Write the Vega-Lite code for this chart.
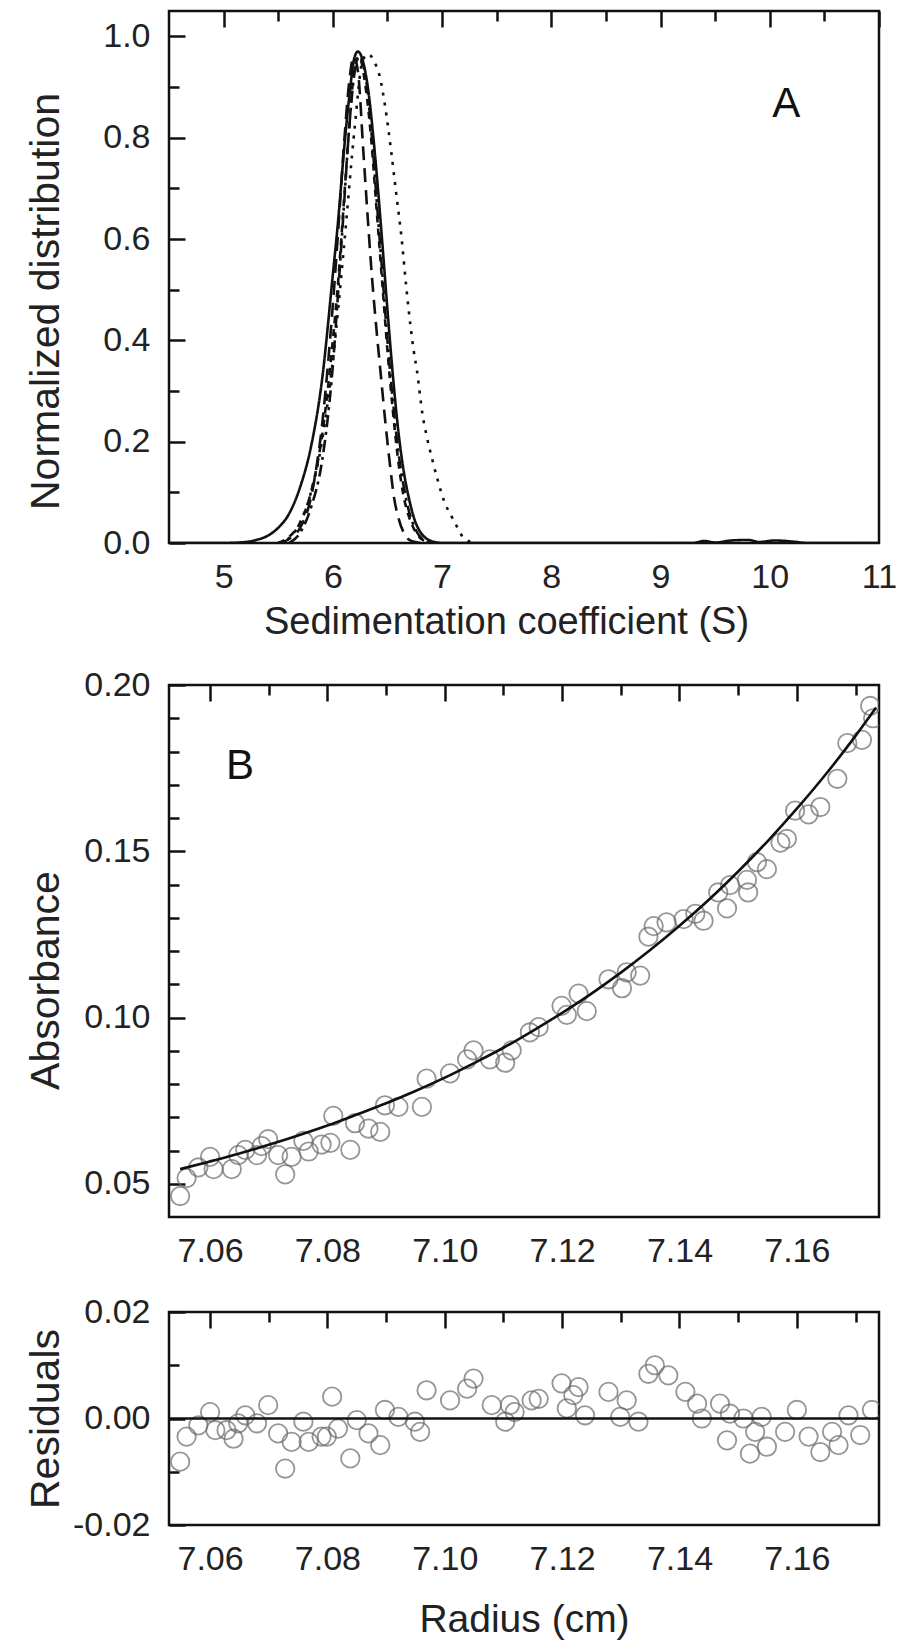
{
  "$schema": "https://vega.github.io/schema/vega-lite/v6.json",
  "padding": {"left": 23, "top": 9, "right": 5, "bottom": 0},
  "spacing": 23,
  "config": {
    "view": {"stroke": "#111111", "strokeWidth": 2.5},
    "axis": {
      "domain": false, "ticks": false, "tickSize": 0,
      "grid": true, "gridColor": "#111111", "gridWidth": 2.5, "gridOpacity": 1,
      "labelColor": "#222222", "labelFont": "Liberation Sans", "labelFontSize": 34,
      "titleFont": "Liberation Sans", "titleFontSize": 41, "titleFontWeight": "normal", "titleColor": "#222222",
      "labelFlush": false, "labelOverlap": false, "labelBound": false
    },
    "axisX": {"labelPadding": 17},
    "axisY": {"labelPadding": 19},
    "text": {"font": "Liberation Sans"}
  },
  "vconcat": [
    {
      "width": 710, "height": 532,
      "resolve": {"axis": {"x": "independent", "y": "independent"}},
      "layer": [
        {
          "data": {"values": [
            {"c":"solid","s":4.5,"g":0},{"c":"solid","s":5.0,"g":0},{"c":"solid","s":5.2,"g":0.002},{"c":"solid","s":5.3,"g":0.006},{"c":"solid","s":5.4,"g":0.014},{"c":"solid","s":5.5,"g":0.03},{"c":"solid","s":5.6,"g":0.058},{"c":"solid","s":5.7,"g":0.11},{"c":"solid","s":5.8,"g":0.19},{"c":"solid","s":5.9,"g":0.32},{"c":"solid","s":6.0,"g":0.53},{"c":"solid","s":6.05,"g":0.64},{"c":"solid","s":6.1,"g":0.77},{"c":"solid","s":6.15,"g":0.88},{"c":"solid","s":6.2,"g":0.96},{"c":"solid","s":6.23,"g":0.97},{"c":"solid","s":6.27,"g":0.955},{"c":"solid","s":6.32,"g":0.9},{"c":"solid","s":6.38,"g":0.78},{"c":"solid","s":6.45,"g":0.6},{"c":"solid","s":6.5,"g":0.46},{"c":"solid","s":6.55,"g":0.33},{"c":"solid","s":6.6,"g":0.22},{"c":"solid","s":6.65,"g":0.14},{"c":"solid","s":6.7,"g":0.085},{"c":"solid","s":6.75,"g":0.045},{"c":"solid","s":6.8,"g":0.022},{"c":"solid","s":6.85,"g":0.01},{"c":"solid","s":6.9,"g":0.004},{"c":"solid","s":7.0,"g":0},{"c":"solid","s":9.3,"g":0},{"c":"solid","s":9.4,"g":0.004},{"c":"solid","s":9.5,"g":0.001},{"c":"solid","s":9.65,"g":0.005},{"c":"solid","s":9.8,"g":0.006},{"c":"solid","s":9.9,"g":0.002},{"c":"solid","s":10.05,"g":0.005},{"c":"solid","s":10.2,"g":0.003},{"c":"solid","s":10.35,"g":0},{"c":"solid","s":11,"g":0},
            {"c":"dash","s":5.5,"g":0},{"c":"dash","s":5.6,"g":0.008},{"c":"dash","s":5.7,"g":0.03},{"c":"dash","s":5.8,"g":0.09},{"c":"dash","s":5.85,"g":0.15},{"c":"dash","s":5.9,"g":0.23},{"c":"dash","s":5.95,"g":0.34},{"c":"dash","s":6.0,"g":0.47},{"c":"dash","s":6.05,"g":0.62},{"c":"dash","s":6.1,"g":0.78},{"c":"dash","s":6.15,"g":0.91},{"c":"dash","s":6.19,"g":0.96},{"c":"dash","s":6.23,"g":0.93},{"c":"dash","s":6.28,"g":0.77},{"c":"dash","s":6.32,"g":0.64},{"c":"dash","s":6.36,"g":0.52},{"c":"dash","s":6.4,"g":0.42},{"c":"dash","s":6.44,"g":0.33},{"c":"dash","s":6.48,"g":0.24},{"c":"dash","s":6.52,"g":0.16},{"c":"dash","s":6.56,"g":0.09},{"c":"dash","s":6.6,"g":0.05},{"c":"dash","s":6.65,"g":0.02},{"c":"dash","s":6.7,"g":0.006},{"c":"dash","s":6.8,"g":0},
            {"c":"shortdash","s":5.5,"g":0},{"c":"shortdash","s":5.6,"g":0.012},{"c":"shortdash","s":5.7,"g":0.04},{"c":"shortdash","s":5.8,"g":0.1},{"c":"shortdash","s":5.9,"g":0.21},{"c":"shortdash","s":6.0,"g":0.4},{"c":"shortdash","s":6.05,"g":0.52},{"c":"shortdash","s":6.1,"g":0.67},{"c":"shortdash","s":6.15,"g":0.82},{"c":"shortdash","s":6.2,"g":0.94},{"c":"shortdash","s":6.24,"g":0.96},{"c":"shortdash","s":6.3,"g":0.9},{"c":"shortdash","s":6.35,"g":0.8},{"c":"shortdash","s":6.4,"g":0.66},{"c":"shortdash","s":6.45,"g":0.52},{"c":"shortdash","s":6.5,"g":0.38},{"c":"shortdash","s":6.55,"g":0.26},{"c":"shortdash","s":6.6,"g":0.16},{"c":"shortdash","s":6.65,"g":0.09},{"c":"shortdash","s":6.7,"g":0.05},{"c":"shortdash","s":6.75,"g":0.025},{"c":"shortdash","s":6.8,"g":0.01},{"c":"shortdash","s":6.9,"g":0},
            {"c":"dashdot","s":5.6,"g":0},{"c":"dashdot","s":5.7,"g":0.02},{"c":"dashdot","s":5.8,"g":0.07},{"c":"dashdot","s":5.9,"g":0.16},{"c":"dashdot","s":5.95,"g":0.24},{"c":"dashdot","s":6.0,"g":0.35},{"c":"dashdot","s":6.05,"g":0.5},{"c":"dashdot","s":6.1,"g":0.66},{"c":"dashdot","s":6.15,"g":0.82},{"c":"dashdot","s":6.2,"g":0.93},{"c":"dashdot","s":6.24,"g":0.96},{"c":"dashdot","s":6.3,"g":0.92},{"c":"dashdot","s":6.35,"g":0.82},{"c":"dashdot","s":6.4,"g":0.68},{"c":"dashdot","s":6.45,"g":0.54},{"c":"dashdot","s":6.5,"g":0.4},{"c":"dashdot","s":6.55,"g":0.28},{"c":"dashdot","s":6.6,"g":0.18},{"c":"dashdot","s":6.65,"g":0.11},{"c":"dashdot","s":6.7,"g":0.06},{"c":"dashdot","s":6.75,"g":0.03},{"c":"dashdot","s":6.8,"g":0.012},{"c":"dashdot","s":6.9,"g":0},
            {"c":"dot","s":5.5,"g":0},{"c":"dot","s":5.6,"g":0.01},{"c":"dot","s":5.7,"g":0.04},{"c":"dot","s":5.8,"g":0.1},{"c":"dot","s":5.9,"g":0.2},{"c":"dot","s":6.0,"g":0.36},{"c":"dot","s":6.1,"g":0.58},{"c":"dot","s":6.2,"g":0.82},{"c":"dot","s":6.27,"g":0.95},{"c":"dot","s":6.32,"g":0.965},{"c":"dot","s":6.38,"g":0.95},{"c":"dot","s":6.43,"g":0.92},{"c":"dot","s":6.48,"g":0.86},{"c":"dot","s":6.53,"g":0.78},{"c":"dot","s":6.58,"g":0.69},{"c":"dot","s":6.63,"g":0.6},{"c":"dot","s":6.67,"g":0.51},{"c":"dot","s":6.71,"g":0.43},{"c":"dot","s":6.74,"g":0.38},{"c":"dot","s":6.77,"g":0.34},{"c":"dot","s":6.82,"g":0.255},{"c":"dot","s":6.86,"g":0.21},{"c":"dot","s":6.91,"g":0.165},{"c":"dot","s":6.96,"g":0.124},{"c":"dot","s":7.02,"g":0.082},{"c":"dot","s":7.08,"g":0.055},{"c":"dot","s":7.13,"g":0.035},{"c":"dot","s":7.18,"g":0.015},{"c":"dot","s":7.24,"g":0.004},{"c":"dot","s":7.3,"g":0}
          ]},
          "mark": {"type": "line", "interpolate": "monotone", "strokeWidth": 2.6, "color": "#111111", "clip": true},
          "encoding": {
            "x": {"field": "s", "type": "quantitative", "scale": {"domain": [4.5, 11], "nice": false, "zero": false},
              "axis": {"orient": "bottom", "values": [5,5.5,6,6.5,7,7.5,8,8.5,9,9.5,10,10.5,11],
                "title": "Sedimentation coefficient (S)", "titleFontSize": 38, "titleX": 337, "titlePadding": 8, "minExtent": 52,
                "labelExpr": "datum.value % 1 == 0 ? format(datum.value, 'd') : ''",
                "gridDash": {"condition": {"test": "datum.value % 1 != 0", "value": [10, 3000]}, "value": [16, 3000]}}},
            "y": {"field": "g", "type": "quantitative", "scale": {"domain": [0, 1.05], "nice": false},
              "axis": {"orient": "left", "values": [0,0.1,0.2,0.3,0.4,0.5,0.6,0.7,0.8,0.9,1.0],
                "title": "Normalized distribution", "titleY": 290, "titlePadding": 2, "minExtent": 100,
                "labelExpr": "round(datum.value*10) % 2 == 0 ? format(datum.value, '.1f') : ''",
                "gridDash": {"condition": {"test": "round(datum.value*10) % 2 == 1", "value": [10, 3000]}, "value": [16, 3000]}}},
            "strokeDash": {"field": "c", "type": "nominal",
              "scale": {"domain": ["solid","dash","shortdash","dashdot","dot"], "range": [[1,0],[14,8],[7,6],[12,5,3,5],[3,7]]},
              "legend": null}
          }
        },
        {
          "data": {"values": [{"s": 10.15, "g": 0.866, "t": "A"}]},
          "mark": {"type": "text", "fontSize": 42, "color": "#111111", "align": "center", "baseline": "middle"},
          "encoding": {
            "x": {"field": "s", "type": "quantitative", "scale": {"domain": [4.5, 11], "nice": false, "zero": false},
              "axis": {"orient": "top", "values": [5,5.5,6,6.5,7,7.5,8,8.5,9,9.5,10,10.5,11], "labels": false, "title": null,
                "gridDash": {"condition": {"test": "datum.value % 1 != 0", "value": [10, 3000]}, "value": [16, 3000]}}},
            "y": {"field": "g", "type": "quantitative", "scale": {"domain": [0, 1.05], "nice": false},
              "axis": {"orient": "right", "values": [0,0.1,0.2,0.3,0.4,0.5,0.6,0.7,0.8,0.9,1.0], "labels": false, "title": null,
                "gridDash": {"condition": {"test": "round(datum.value*10) % 2 == 1", "value": [10, 3000]}, "value": [16, 3000]}}},
            "text": {"field": "t"}
          }
        }
      ]
    },
    {
      "width": 710, "height": 532,
      "resolve": {"axis": {"x": "independent", "y": "independent"}},
      "layer": [
        {
          "data": {"values": [
            {"r":7.0549,"a":0.0463},{"r":7.0560,"a":0.0517},{"r":7.0580,"a":0.0549},{"r":7.0600,"a":0.0581},{"r":7.0606,"a":0.0544},{"r":7.0637,"a":0.0544},{"r":7.0648,"a":0.0586},{"r":7.0660,"a":0.0602},{"r":7.0680,"a":0.0586},{"r":7.0688,"a":0.0613},{"r":7.0699,"a":0.0634},{"r":7.0716,"a":0.0586},{"r":7.0728,"a":0.0528},{"r":7.0739,"a":0.0581},{"r":7.0759,"a":0.0629},{"r":7.0768,"a":0.0597},{"r":7.0790,"a":0.0618},{"r":7.0805,"a":0.0623},{"r":7.0810,"a":0.0704},{"r":7.0839,"a":0.0602},{"r":7.0847,"a":0.0682},{"r":7.0870,"a":0.0666},{"r":7.0890,"a":0.0656},{"r":7.0898,"a":0.0736},{"r":7.0921,"a":0.0731},{"r":7.0961,"a":0.0731},{"r":7.0969,"a":0.0816},{"r":7.1009,"a":0.0832},{"r":7.1038,"a":0.0874},{"r":7.1049,"a":0.0901},{"r":7.1077,"a":0.0874},{"r":7.1103,"a":0.0864},{"r":7.1114,"a":0.0901},{"r":7.1145,"a":0.0955},{"r":7.1160,"a":0.0971},{"r":7.1199,"a":0.1035},{"r":7.1208,"a":0.1008},{"r":7.1228,"a":0.1072},{"r":7.1242,"a":0.1019},{"r":7.1279,"a":0.1115},{"r":7.1302,"a":0.1088},{"r":7.1310,"a":0.1136},{"r":7.1333,"a":0.1126},{"r":7.1347,"a":0.1243},{"r":7.1356,"a":0.1275},{"r":7.1378,"a":0.1286},{"r":7.1407,"a":0.1296},{"r":7.1427,"a":0.1312},{"r":7.1441,"a":0.1291},{"r":7.1466,"a":0.1376},{"r":7.1481,"a":0.1328},{"r":7.1486,"a":0.1398},{"r":7.1515,"a":0.1414},{"r":7.1517,"a":0.1376},{"r":7.1532,"a":0.1467},{"r":7.1549,"a":0.1446},{"r":7.1572,"a":0.1526},{"r":7.1583,"a":0.1537},{"r":7.1597,"a":0.1622},{"r":7.1620,"a":0.1611},{"r":7.1640,"a":0.1633},{"r":7.1669,"a":0.1718},{"r":7.1686,"a":0.1825},{"r":7.1711,"a":0.1835},{"r":7.1725,"a":0.1937},{"r":7.1730,"a":0.1900}
          ]},
          "mark": {"type": "point", "shape": "circle", "filled": false, "size": 340, "stroke": "#6a6a6a", "strokeWidth": 1.8, "clip": true},
          "encoding": {
            "x": {"field": "r", "type": "quantitative", "scale": {"domain": [7.053, 7.174], "nice": false, "zero": false},
              "axis": {"orient": "bottom", "values": [7.06,7.07,7.08,7.09,7.1,7.11,7.12,7.13,7.14,7.15,7.16,7.17], "title": null, "minExtent": 51,
                "labelExpr": "round(datum.value*100) % 2 == 0 ? format(datum.value, '.2f') : ''",
                "gridDash": {"condition": {"test": "round(datum.value*100) % 2 == 1", "value": [10, 3000]}, "value": [16, 3000]}}},
            "y": {"field": "a", "type": "quantitative", "scale": {"domain": [0.04, 0.2], "nice": false, "zero": false},
              "axis": {"orient": "left", "values": [0.05,0.06,0.07,0.08,0.09,0.1,0.11,0.12,0.13,0.14,0.15,0.16,0.17,0.18,0.19,0.2],
                "title": "Absorbance", "titleY": 295, "titlePadding": 2, "minExtent": 100,
                "labelExpr": "round(datum.value*100) % 5 == 0 ? format(datum.value, '.2f') : ''",
                "gridDash": {"condition": {"test": "round(datum.value*100) % 5 != 0", "value": [10, 3000]}, "value": [16, 3000]}}}
          }
        },
        {
          "data": {"values": [
            {"r":7.0549,"a":0.0544},{"r":7.06,"a":0.0567},{"r":7.065,"a":0.0591},{"r":7.07,"a":0.0617},{"r":7.075,"a":0.0645},{"r":7.08,"a":0.0675},{"r":7.085,"a":0.0708},{"r":7.09,"a":0.0742},{"r":7.095,"a":0.0779},{"r":7.1,"a":0.0819},{"r":7.105,"a":0.0863},{"r":7.11,"a":0.0909},{"r":7.115,"a":0.096},{"r":7.12,"a":0.1014},{"r":7.125,"a":0.1072},{"r":7.13,"a":0.1135},{"r":7.135,"a":0.1203},{"r":7.14,"a":0.1276},{"r":7.145,"a":0.1354},{"r":7.15,"a":0.1439},{"r":7.155,"a":0.153},{"r":7.16,"a":0.1628},{"r":7.165,"a":0.1733},{"r":7.17,"a":0.1847},{"r":7.1735,"a":0.1932}
          ]},
          "mark": {"type": "line", "interpolate": "monotone", "strokeWidth": 2.6, "color": "#111111", "clip": true},
          "encoding": {
            "x": {"field": "r", "type": "quantitative", "scale": {"domain": [7.053, 7.174], "nice": false, "zero": false},
              "axis": {"orient": "top", "values": [7.06,7.07,7.08,7.09,7.1,7.11,7.12,7.13,7.14,7.15,7.16,7.17], "labels": false, "title": null,
                "gridDash": {"condition": {"test": "round(datum.value*100) % 2 == 1", "value": [10, 3000]}, "value": [16, 3000]}}},
            "y": {"field": "a", "type": "quantitative", "scale": {"domain": [0.04, 0.2], "nice": false, "zero": false},
              "axis": {"orient": "right", "values": [0.05,0.06,0.07,0.08,0.09,0.1,0.11,0.12,0.13,0.14,0.15,0.16,0.17,0.18,0.19,0.2], "labels": false, "title": null,
                "gridDash": {"condition": {"test": "round(datum.value*100) % 5 != 0", "value": [10, 3000]}, "value": [16, 3000]}}}
          }
        },
        {
          "data": {"values": [{"r": 7.0651, "a": 0.1756, "t": "B"}]},
          "mark": {"type": "text", "fontSize": 42, "color": "#111111", "align": "center", "baseline": "middle"},
          "encoding": {
            "x": {"field": "r", "type": "quantitative", "scale": {"domain": [7.053, 7.174], "nice": false, "zero": false}, "axis": null},
            "y": {"field": "a", "type": "quantitative", "scale": {"domain": [0.04, 0.2], "nice": false, "zero": false}, "axis": null},
            "text": {"field": "t"}
          }
        }
      ]
    },
    {
      "width": 710, "height": 213,
      "resolve": {"axis": {"x": "independent", "y": "independent"}},
      "layer": [
        {
          "data": {"values": [
            {"r":7.0549,"v":-0.0081},{"r":7.0560,"v":-0.0034},{"r":7.0580,"v":-0.0013},{"r":7.0600,"v":0.0012},{"r":7.0609,"v":-0.0022},{"r":7.0628,"v":-0.0022},{"r":7.0640,"v":-0.0038},{"r":7.0648,"v":-0.0009},{"r":7.0660,"v":0.0006},{"r":7.0680,"v":-0.0009},{"r":7.0699,"v":0.0025},{"r":7.0716,"v":-0.0028},{"r":7.0728,"v":-0.0094},{"r":7.0739,"v":-0.0044},{"r":7.0759,"v":-0.0006},{"r":7.0768,"v":-0.0044},{"r":7.0790,"v":-0.0034},{"r":7.0799,"v":-0.0034},{"r":7.0808,"v":0.0041},{"r":7.0818,"v":-0.0019},{"r":7.0839,"v":-0.0075},{"r":7.0850,"v":-0.0003},{"r":7.0870,"v":-0.0028},{"r":7.0890,"v":-0.0050},{"r":7.0898,"v":0.0016},{"r":7.0921,"v":0.0003},{"r":7.0949,"v":-0.0006},{"r":7.0958,"v":-0.0025},{"r":7.0969,"v":0.0053},{"r":7.1009,"v":0.0034},{"r":7.1038,"v":0.0056},{"r":7.1049,"v":0.0075},{"r":7.1080,"v":0.0025},{"r":7.1103,"v":-0.0006},{"r":7.1111,"v":0.0025},{"r":7.1119,"v":0.0012},{"r":7.1148,"v":0.0034},{"r":7.1160,"v":0.0037},{"r":7.1199,"v":0.0066},{"r":7.1208,"v":0.0019},{"r":7.1219,"v":0.0044},{"r":7.1228,"v":0.0059},{"r":7.1239,"v":0.0006},{"r":7.1279,"v":0.0050},{"r":7.1299,"v":0.0003},{"r":7.1310,"v":0.0034},{"r":7.1330,"v":-0.0006},{"r":7.1347,"v":0.0084},{"r":7.1358,"v":0.0100},{"r":7.1381,"v":0.0081},{"r":7.1410,"v":0.0050},{"r":7.1430,"v":0.0028},{"r":7.1438,"v":0.0000},{"r":7.1469,"v":0.0028},{"r":7.1481,"v":-0.0041},{"r":7.1486,"v":0.0009},{"r":7.1509,"v":0.0000},{"r":7.1520,"v":-0.0066},{"r":7.1529,"v":-0.0025},{"r":7.1540,"v":0.0003},{"r":7.1549,"v":-0.0053},{"r":7.1580,"v":-0.0025},{"r":7.1600,"v":0.0016},{"r":7.1620,"v":-0.0034},{"r":7.1640,"v":-0.0063},{"r":7.1660,"v":-0.0025},{"r":7.1671,"v":-0.0050},{"r":7.1688,"v":0.0006},{"r":7.1708,"v":-0.0031},{"r":7.1728,"v":0.0016}
          ]},
          "mark": {"type": "point", "shape": "circle", "filled": false, "size": 340, "stroke": "#6a6a6a", "strokeWidth": 1.8, "clip": true},
          "encoding": {
            "x": {"field": "r", "type": "quantitative", "scale": {"domain": [7.053, 7.174], "nice": false, "zero": false},
              "axis": {"orient": "bottom", "values": [7.06,7.07,7.08,7.09,7.1,7.11,7.12,7.13,7.14,7.15,7.16,7.17],
                "title": "Radius (cm)", "titleFontSize": 39, "titlePadding": 24, "minExtent": 51,
                "labelExpr": "round(datum.value*100) % 2 == 0 ? format(datum.value, '.2f') : ''",
                "gridDash": {"condition": {"test": "round(datum.value*100) % 2 == 1", "value": [10, 3000]}, "value": [16, 3000]}}},
            "y": {"field": "v", "type": "quantitative", "scale": {"domain": [-0.02, 0.02], "nice": false, "zero": false},
              "axis": {"orient": "left", "values": [-0.02,-0.01,0,0.01,0.02],
                "title": "Residuals", "titlePadding": 2, "minExtent": 100,
                "labelExpr": "abs(round(datum.value*100)) % 2 == 0 ? replace(format(datum.value, '.2f'), '\u2212', '-') : ''",
                "gridDash": {"condition": {"test": "abs(round(datum.value*100)) % 2 == 1", "value": [10, 3000]}, "value": [16, 3000]}}}
          }
        },
        {
          "data": {"values": [{"r": 7.05, "v": 0}, {"r": 7.18, "v": 0}]},
          "mark": {"type": "line", "strokeWidth": 2.6, "color": "#111111", "clip": true},
          "encoding": {
            "x": {"field": "r", "type": "quantitative", "scale": {"domain": [7.053, 7.174], "nice": false, "zero": false},
              "axis": {"orient": "top", "values": [7.06,7.07,7.08,7.09,7.1,7.11,7.12,7.13,7.14,7.15,7.16,7.17], "labels": false, "title": null,
                "gridDash": {"condition": {"test": "round(datum.value*100) % 2 == 1", "value": [10, 3000]}, "value": [16, 3000]}}},
            "y": {"field": "v", "type": "quantitative", "scale": {"domain": [-0.02, 0.02], "nice": false, "zero": false},
              "axis": {"orient": "right", "values": [-0.02,-0.01,0,0.01,0.02], "labels": false, "title": null,
                "gridDash": {"condition": {"test": "abs(round(datum.value*100)) % 2 == 1", "value": [10, 3000]}, "value": [16, 3000]}}}
          }
        }
      ]
    }
  ]
}
